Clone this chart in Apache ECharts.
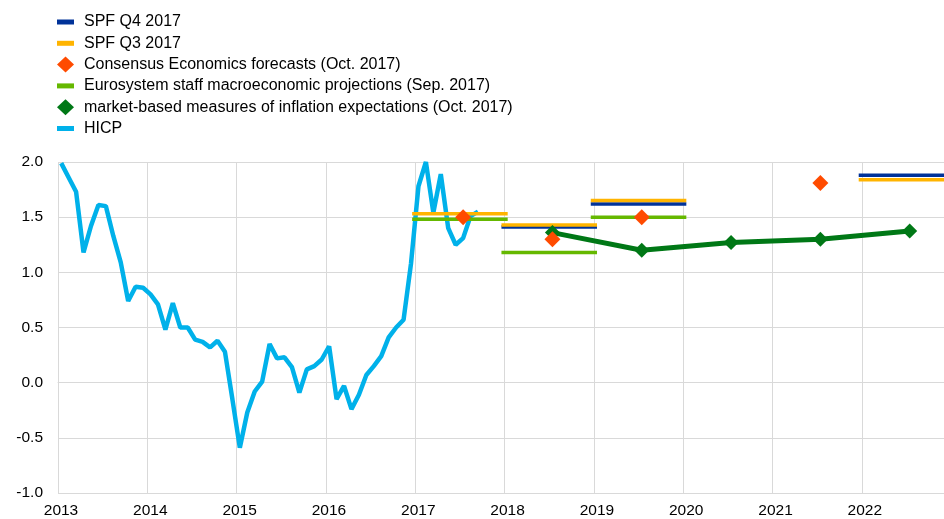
<!DOCTYPE html>
<html>
<head>
<meta charset="utf-8">
<script src="https://cdn.jsdelivr.net/npm/echarts@6/dist/echarts.min.js"></script>
<style>
  html, body { margin: 0; padding: 0; background: #fff; }
  #chart { width: 944px; height: 519px; }
</style>
</head>
<body>
<div id="chart"></div>
<script>
// HICP, monthly from Jan 2013 to Sep 2017 (% y-o-y)
const hicpStartYear = 2013
const hicp = [
  1.99, 1.86, 1.73, 1.18, 1.42, 1.61, 1.60, 1.33, 1.09, 0.74, 0.87, 0.86,
  0.80, 0.71, 0.48, 0.72, 0.50, 0.50, 0.39, 0.37, 0.32, 0.38, 0.28, -0.15,
  -0.59, -0.27, -0.08, 0.01, 0.35, 0.22, 0.23, 0.14, -0.09, 0.12, 0.15, 0.21,
  0.33, -0.15, -0.03, -0.24, -0.11, 0.07, 0.15, 0.24, 0.41, 0.50, 0.57, 1.08,
  1.78, 2.00, 1.54, 1.89, 1.40, 1.25, 1.31, 1.51, 1.55,
]

// annual forecasts drawn as horizontal bars across the year
const forecastYears = [2017, 2018, 2019, 2022]
const spfQ4 = [null, 1.41, 1.62, 1.88]
const spfQ3 = [1.53, 1.43, 1.65, 1.84]
const eurosystem = [1.48, 1.18, 1.50, null]

// point forecasts placed mid-year
const consensusYears = [2017, 2018, 2019, 2021]
const consensus = [1.50, 1.30, 1.50, 1.81]
const marketYears = [2018, 2019, 2020, 2021, 2022]
const market = [1.36, 1.20, 1.27, 1.30, 1.375]

const yTicks = [-1.0, -0.5, 0.0, 0.5, 1.0, 1.5, 2.0]

const names = {
  spfQ4: 'SPF Q4 2017',
  spfQ3: 'SPF Q3 2017',
  consensus: 'Consensus Economics forecasts (Oct. 2017)',
  eurosystem: 'Eurosystem staff macroeconomic projections (Sep. 2017)',
  market: 'market-based measures of inflation expectations (Oct. 2017)',
  hicp: 'HICP',
}
const colors = {
  spfQ4: '#003299',
  spfQ3: '#ffb400',
  consensus: '#ff4b00',
  eurosystem: '#65b800',
  market: '#007816',
  hicp: '#00b1ea',
}

const font = '"Liberation Sans", Arial, sans-serif'
const monthOffset = 0.43 // points sit roughly mid-month
const midYear = (6 + monthOffset) / 12
const barIcon = 'path://M0,0M22,16M0,5.5H17V10.5H0Z'
const diamondIcon = 'path://M0,0M22,16M8.5,0L17,8L8.5,16L0,8Z'

function segmentSeries(key, values) {
  return forecastYears
    .map((year, i) => ({ year, value: values[i] }))
    .filter((d) => d.value != null)
    .map((d) => ({
      name: names[key],
      type: 'line',
      symbol: 'none',
      color: colors[key],
      lineStyle: { width: 3.5, color: colors[key] },
      data: [
        [d.year - 0.035, d.value],
        [d.year + 1.035, d.value],
      ],
    }))
}

const chart = echarts.init(document.getElementById('chart'), null, { renderer: 'canvas' })

chart.setOption({
  animation: false,
  backgroundColor: '#fff',
  textStyle: { fontFamily: font },
  grid: { left: 58, right: 0, top: 162, bottom: 26, containLabel: false },
  legend: {
    orient: 'vertical',
    left: 52,
    top: 9,
    itemWidth: 22,
    itemHeight: 16,
    itemGap: 5.3,
    selectedMode: false,
    textStyle: { fontSize: 16, color: '#000', fontFamily: font },
    data: ['spfQ4', 'spfQ3', 'consensus', 'eurosystem', 'market', 'hicp'].map((key) => ({
      name: names[key],
      icon: key === 'consensus' || key === 'market' ? diamondIcon : barIcon,
      itemStyle: { color: colors[key], borderWidth: 0, opacity: 1 },
    })),
  },
  xAxis: {
    type: 'value',
    min: 2013,
    max: 2022.92,
    interval: 1,
    axisLine: { show: true, lineStyle: { color: '#d9d9d9', width: 1 } },
    axisTick: { show: false },
    axisLabel: {
      color: '#000',
      fontSize: 15.5,
      fontFamily: font,
      margin: 10,
      padding: [0, 0, 0, 6],
      showMaxLabel: false,
      formatter: (v) => String(Math.round(v)),
    },
    splitLine: { show: true, showMaxLine: false, lineStyle: { color: '#d9d9d9', width: 1 } },
  },
  yAxis: {
    type: 'value',
    min: yTicks[0],
    max: yTicks[yTicks.length - 1],
    interval: 0.5,
    axisLine: { show: false },
    axisTick: { show: false },
    axisLabel: {
      color: '#000',
      fontSize: 15.5,
      fontFamily: font,
      margin: 15,
      formatter: (v) => v.toFixed(1),
    },
    splitLine: { show: true, lineStyle: { color: '#d9d9d9', width: 1 } },
  },
  series: [
    {
      name: names.hicp,
      type: 'line',
      symbol: 'none',
      color: colors.hicp,
      lineStyle: { width: 4.5, color: colors.hicp },
      data: hicp.map((v, i) => [hicpStartYear + (i + monthOffset) / 12, v]),
    },
    ...segmentSeries('spfQ4', spfQ4),
    ...segmentSeries('spfQ3', spfQ3),
    ...segmentSeries('eurosystem', eurosystem),
    {
      name: names.market,
      type: 'line',
      symbol: 'diamond',
      symbolSize: 15,
      showAllSymbol: true,
      color: colors.market,
      itemStyle: { color: colors.market },
      lineStyle: { width: 5, color: colors.market },
      data: market.map((v, i) => [marketYears[i] + midYear, v]),
    },
    {
      name: names.consensus,
      type: 'scatter',
      symbol: 'diamond',
      symbolSize: 16,
      z: 5,
      color: colors.consensus,
      itemStyle: { color: colors.consensus, opacity: 1 },
      data: consensus.map((v, i) => [consensusYears[i] + midYear, v]),
    },
  ],
})
</script>
</body>
</html>
